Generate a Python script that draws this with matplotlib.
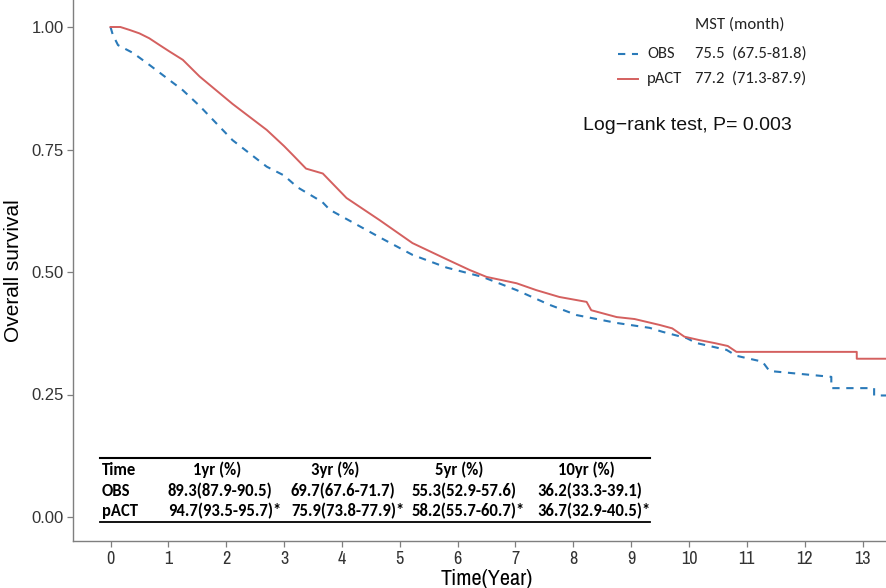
import matplotlib
matplotlib.use("Agg")
import matplotlib.pyplot as plt
from matplotlib.lines import Line2D
from matplotlib import font_manager as fm

# ---------------- data ----------------
obs_t = [0, 0.04, 0.13, 0.39, 0.68, 0.97, 1.25, 1.54, 2.11, 2.70, 3.0, 3.23, 3.66, 3.79,
         4.65, 5.22, 5.81, 6.43, 7.02, 7.59, 8.06, 8.75, 9.32, 9.54, 9.96, 10.13,
         10.65, 10.82, 11.27, 11.39, 12.46, 12.46, 13.2, 13.2, 13.45]
obs_s = [1.0, 0.984, 0.963, 0.947, 0.922, 0.896, 0.871, 0.839, 0.769, 0.715, 0.697,
         0.673, 0.643, 0.627, 0.571, 0.535, 0.509, 0.490, 0.463, 0.433, 0.412, 0.396,
         0.386, 0.378, 0.365, 0.355, 0.341, 0.329, 0.317, 0.298, 0.286, 0.263, 0.263,
         0.248, 0.248]

pact_t = [0, 0.17, 0.33, 0.5, 0.67, 0.85, 1.02, 1.25, 1.54, 2.11, 2.70, 3.0, 3.15,
          3.38, 3.67, 4.08, 4.65, 5.22, 5.81, 6.21, 6.50, 7.02, 7.36, 7.76, 8.23, 8.31,
          8.75, 9.06, 9.49, 9.71, 9.92, 10.18, 10.44, 10.67, 10.82, 12.9, 12.9, 13.45]
pact_s = [1.0, 1.0, 0.994, 0.987, 0.977, 0.963, 0.950, 0.933, 0.899, 0.843, 0.790,
          0.757, 0.739, 0.711, 0.701, 0.651, 0.606, 0.559, 0.526, 0.504, 0.490, 0.477,
          0.463, 0.449, 0.439, 0.422, 0.408, 0.404, 0.392, 0.385, 0.368, 0.361, 0.355,
          0.349, 0.337, 0.337, 0.323, 0.323]

groups = ["OBS", "pACT"]
mst_text = ["75.5  (67.5-81.8)", "77.2  (71.3-87.9)"]
legend_title = "MST (month)"
logrank_text = "Log\u2212rank test, P= 0.003"

table_header = ["Time", "1yr (%)", "3yr (%)", "5yr (%)", "10yr (%)"]
table_obs = ["OBS", "89.3(87.9-90.5)", "69.7(67.6-71.7)", "55.3(52.9-57.6)", "36.2(33.3-39.1)"]
table_pact = ["pACT", "94.7(93.5-95.7)*", "75.9(73.8-77.9)*", "58.2(55.7-60.7)*", "36.7(32.9-40.5)*"]

x_ticks = list(range(0, 14))
y_ticks = [0.0, 0.25, 0.5, 0.75, 1.0]
y_ticklabels = ["0.00", "0.25", "0.50", "0.75", "1.00"]

# ---------------- styles ----------------
RED = "#D4605F"
BLUE = "#2A7AB9"
W, H = 887, 588

plt.rcParams["font.family"] = ["Liberation Sans", "DejaVu Sans"]
avail = {f.name for f in fm.fontManager.ttflist}

# condensed font for the x axis, Calibri-like font for legend / table
narrow_name = None
for cand in ["Liberation Sans Narrow", "Archivo Narrow", "Roboto Condensed", "PT Sans Narrow"]:
    if cand in avail:
        narrow_name = cand
        break
calib = "Carlito" if "Carlito" in avail else "Lato"
cal_scale = 1.0 if calib == "Carlito" else 0.92


def narrow_kw(size):
    if narrow_name is not None:
        return dict(fontfamily=narrow_name, fontsize=size)
    return dict(fontfamily="Liberation Sans", fontsize=size * 0.85)


fig = plt.figure(figsize=(W / 100, H / 100), dpi=100)


def fx(x):
    return x / W


def fy(y):
    return 1 - y / H


ax = fig.add_axes([fx(73), fy(541), fx(887) - fx(73), fy(0) - fy(541)])

ax.plot(obs_t, obs_s, color=BLUE, lw=1.5, dashes=(3.5, 3.2), zorder=3)
ax.plot(pact_t, pact_s, color=RED, lw=1.4, zorder=3)

x0_px, xstep = 110.5, 57.85
ax.set_xlim((73 - x0_px) / xstep, (887 - x0_px) / xstep)
ax.set_ylim(-24 / 490, 1 + 27 / 490)

ax.set_xticks(x_ticks)
ax.set_xticklabels([str(v) for v in x_ticks], color="#333333", **narrow_kw(13))
ax.set_yticks(y_ticks)
ax.set_yticklabels(y_ticklabels, fontsize=12, color="#333333")
ax.tick_params(axis="both", direction="out", length=4.5, width=0.9, color="#7F7F7F")
ax.tick_params(axis="x", pad=3)
ax.tick_params(axis="y", pad=2)
for s in ["top", "right"]:
    ax.spines[s].set_visible(False)
for s in ["left", "bottom"]:
    ax.spines[s].set_color("#7F7F7F")
    ax.spines[s].set_linewidth(1.0)

ax.set_xlabel("Time(Year)", labelpad=1, **narrow_kw(16))
ax.xaxis.label.set_x((487 - 73) / (887 - 73))
ax.set_ylabel("Overall survival", fontsize=15, labelpad=6)

# ---------------- legend ----------------
leg_font = [calib, "DejaVu Sans"]
lsz = 12 * cal_scale
fig.text(fx(695), fy(25), legend_title, fontsize=lsz, family=leg_font, va="center", ha="left",
         color="#222222")
leg_y = [54, 79]
styles = [dict(color=BLUE, lw=1.5, dashes=(3.5, 3.2)), dict(color=RED, lw=1.4)]
for i, g in enumerate(groups):
    fig.add_artist(Line2D([fx(618), fx(638)], [fy(leg_y[i]), fy(leg_y[i])],
                          transform=fig.transFigure, **styles[i]))
    fig.text(fx(647), fy(leg_y[i]), g, fontsize=lsz, family=leg_font, va="center",
             ha="left", color="#222222")
    fig.text(fx(695), fy(leg_y[i]), mst_text[i], fontsize=lsz, family=leg_font,
             va="center", ha="left", color="#222222")

fig.text(fx(583), fy(126), logrank_text, fontsize=14, va="center", ha="left",
         color="#111111")

# ---------------- table ----------------
tab_font = [calib, "DejaVu Sans"]
tsz = 12
row_y = [470, 491, 511]
val_left = [102, 168, 291, 412, 537]
head_center = [None, 217, 335, 459, 586]
for ci, txt in enumerate(table_header):
    if ci == 0:
        fig.text(fx(val_left[0]), fy(row_y[0]), txt, fontsize=tsz, family=tab_font,
                 fontweight="bold", va="center", ha="left")
    else:
        fig.text(fx(head_center[ci]), fy(row_y[0]), txt, fontsize=tsz, family=tab_font,
                 fontweight="bold", va="center", ha="center")
for ri, row in enumerate([table_obs, table_pact]):
    for ci, txt in enumerate(row):
        fig.text(fx(val_left[ci]), fy(row_y[ri + 1]), txt, fontsize=tsz, family=tab_font,
                 fontweight="bold", va="center", ha="left")
for ly, lw in [(458, 1.5), (522, 1.3)]:
    fig.add_artist(Line2D([fx(100), fx(650)], [fy(ly), fy(ly)], transform=fig.transFigure,
                          color="black", lw=lw))

fig.savefig("out.png", dpi=100)
